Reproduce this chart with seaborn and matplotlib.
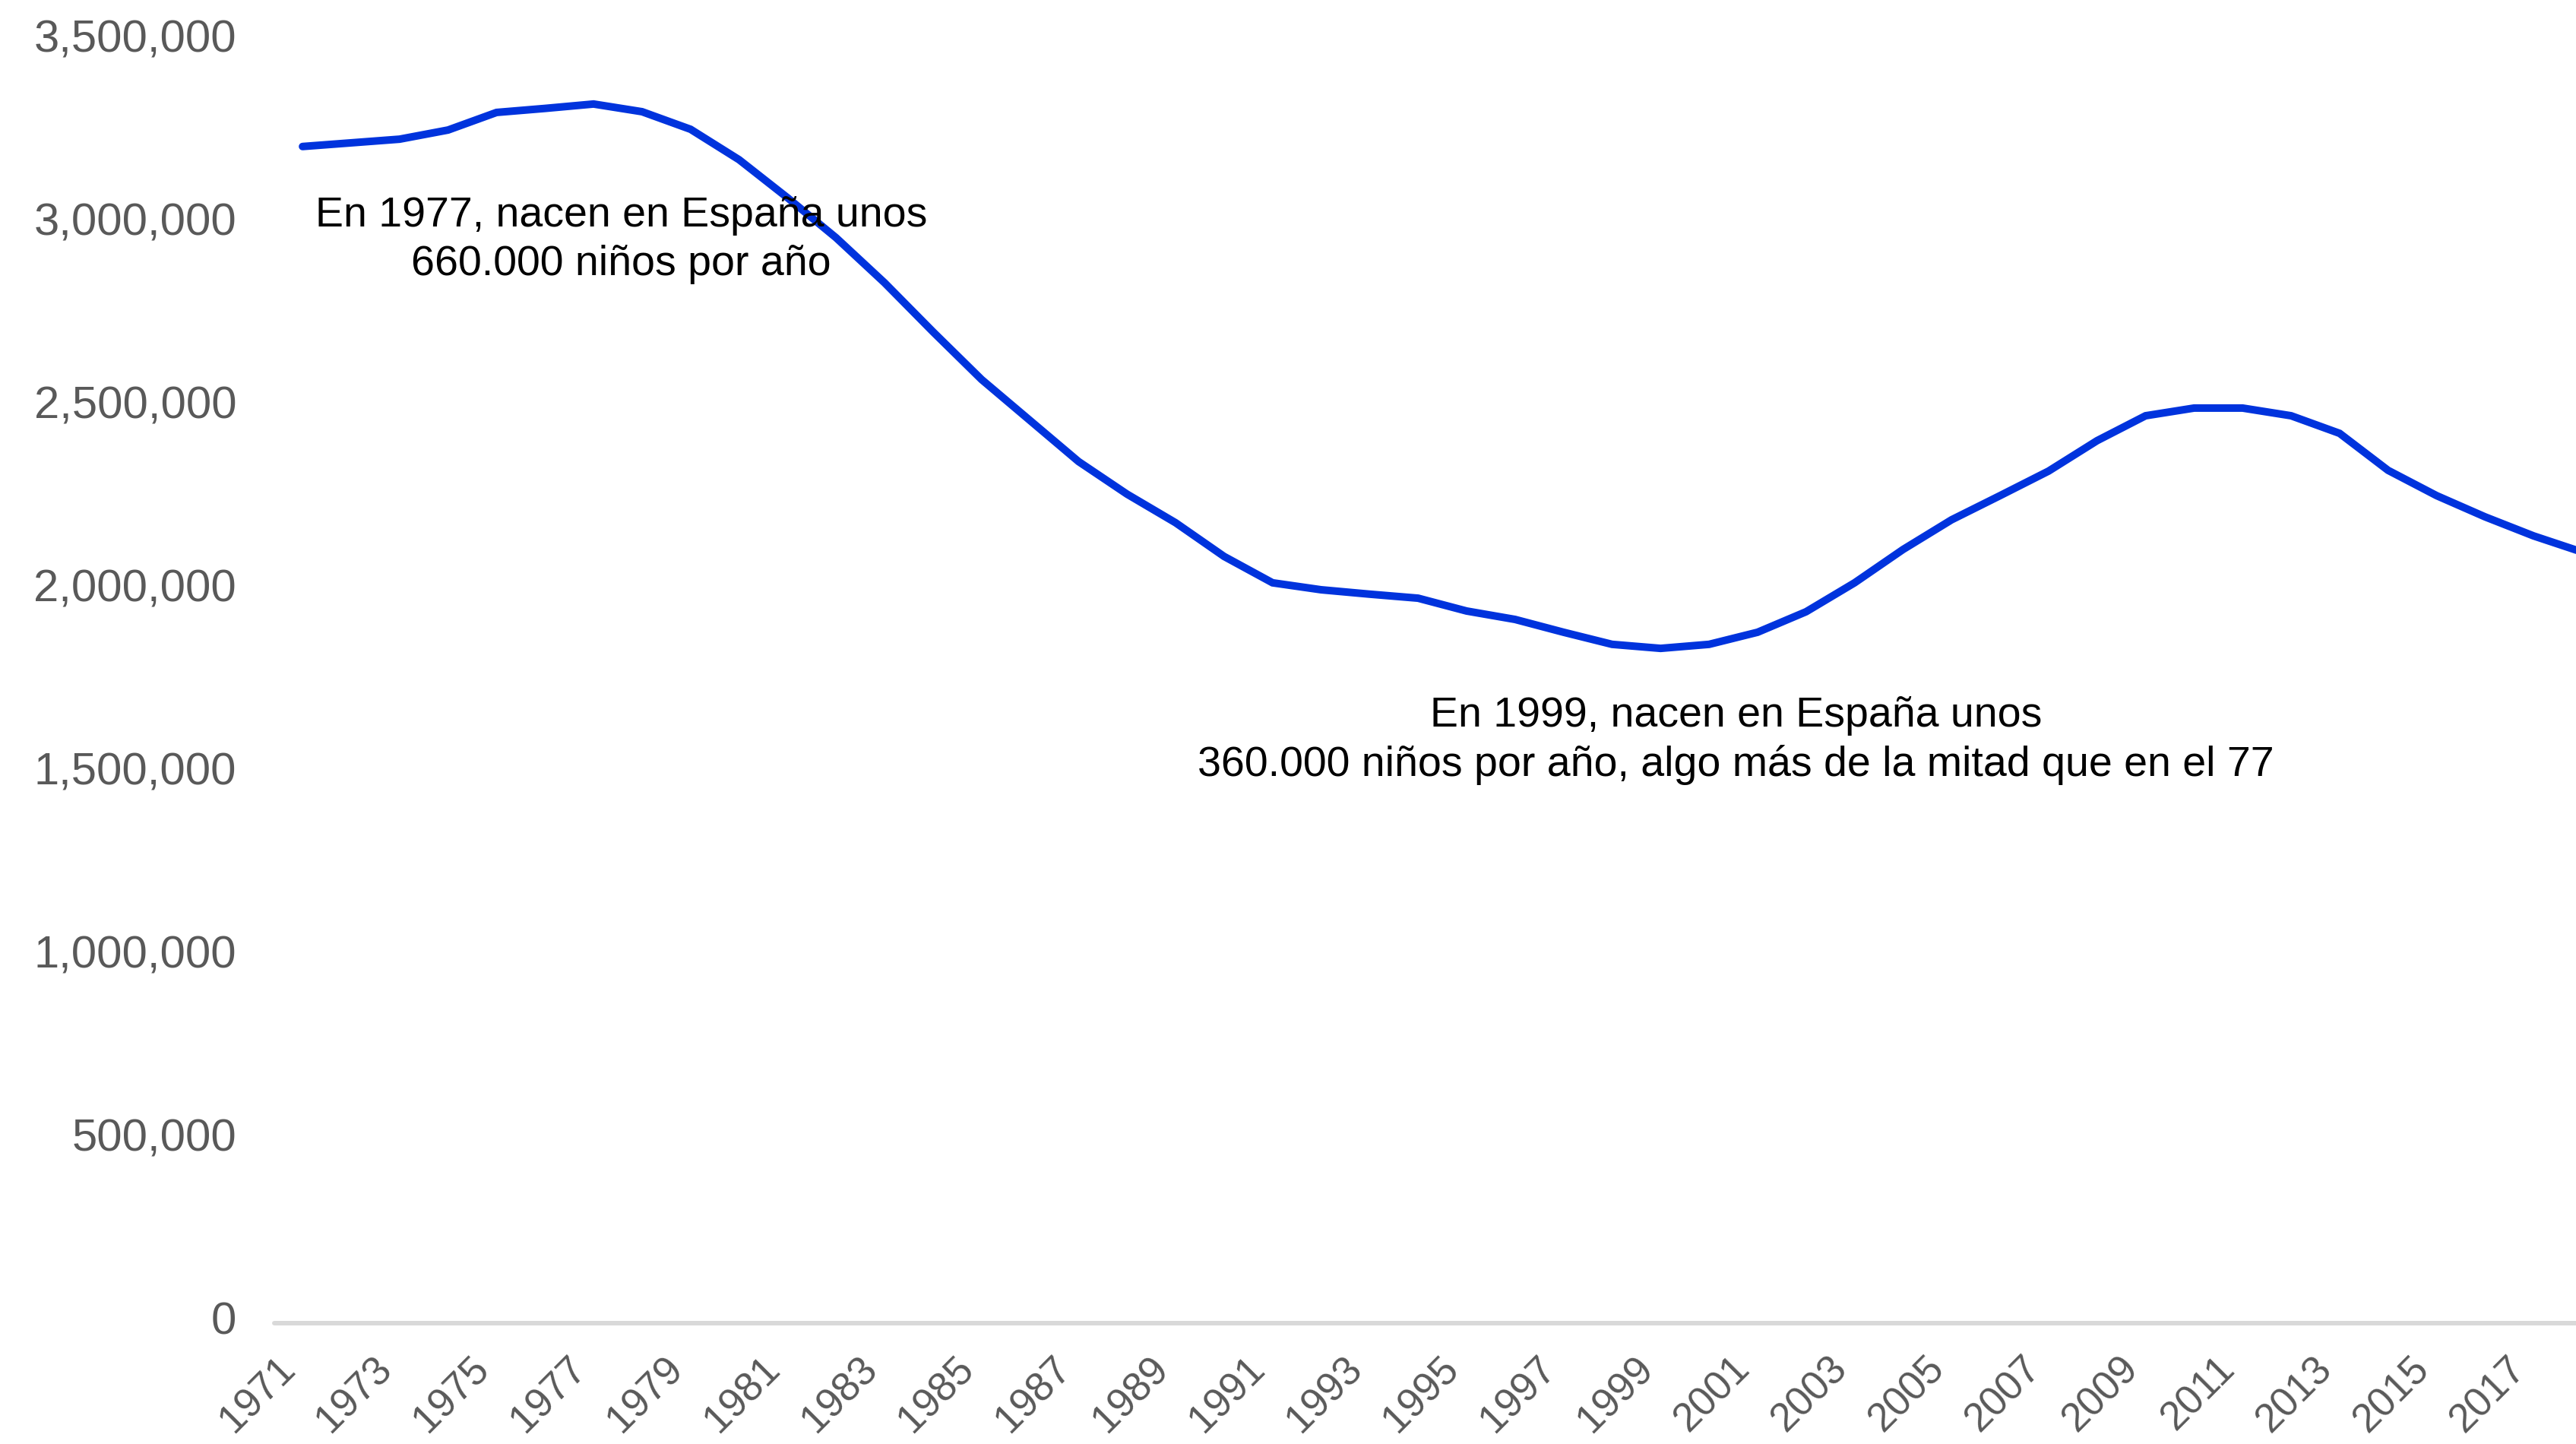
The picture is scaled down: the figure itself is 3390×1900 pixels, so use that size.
import matplotlib
matplotlib.use("Agg")
import matplotlib.pyplot as plt
import matplotlib.transforms as mtransforms
import pandas as pd
import seaborn as sns

# Serie anual 1971-2018
years = list(range(1971, 2019))
poblacion = [
    3212000, 3222000, 3232000, 3257000, 3305000, 3316000, 3328000, 3307000,
    3259000, 3176000, 3072000, 2963000, 2840000, 2706000, 2576000, 2464000,
    2352000, 2263000, 2185000, 2093000, 2021000, 2002000, 1990000, 1979000,
    1944000, 1921000, 1886000, 1853000, 1842000, 1853000, 1886000, 1942000,
    2021000, 2112000, 2193000, 2259000, 2326000, 2409000, 2477000, 2498000,
    2498000, 2477000, 2429000, 2328000, 2259000, 2201000, 2149000, 2105000,
]

y_ticks = [0, 500000, 1000000, 1500000, 2000000, 2500000, 3000000, 3500000]
y_labels = [f"{v:,}" for v in y_ticks]
x_ticks = list(range(1971, 2018, 2))
x_labels = [str(y) for y in x_ticks]

nota_1977 = "En 1977, nacen en España unos\n660.000 niños por año"
nota_1999 = ("En 1999, nacen en España unos\n"
             "360.000 niños por año, algo más de la mitad que en el 77")

sns.set_theme(style="white")
plt.rcParams["font.family"] = ["Liberation Sans", "DejaVu Sans"]

fig = plt.figure(figsize=(33.91, 19.0), dpi=100)
ax = fig.add_axes([0.1065, 0.0837, 1 - 0.1065, 0.9716 - 0.0837])

df = pd.DataFrame({"anio": years, "ninos": poblacion})
sns.lineplot(data=df, x="anio", y="ninos", ax=ax, color="#0033DD",
             linewidth=7.2, solid_joinstyle="miter")

ax.set_xlim(1970.42, 2017.89)
ax.set_ylim(0, 3500000)
for s in ax.spines.values():
    s.set_visible(False)
ax.grid(False)
ax.axhline(0, color="#d9d9d9", lw=4.3, zorder=0, clip_on=False)

ax.set_xlabel("")
ax.set_ylabel("")

ax.set_yticks(y_ticks, labels=y_labels)
ax.tick_params(axis="y", length=0, pad=36, labelsize=43, labelcolor="#595959")
shift = mtransforms.ScaledTranslation(0, 7 / 100, fig.dpi_scale_trans)
for lab in ax.get_yticklabels():
    lab.set_transform(lab.get_transform() + shift)

ax.set_xticks(x_ticks, labels=x_labels, rotation=45, ha="right")
ax.tick_params(axis="x", length=0, pad=25, labelsize=38, labelcolor="#595959")

# anchor = baseline of the last line of each note
ax.text(1977.57, 2861000, nota_1977, ha="center", va="baseline",
        fontsize=40, color="black", linespacing=1.3, multialignment="center")
ax.text(2000.55, 1494000, nota_1999, ha="center", va="baseline",
        fontsize=40, color="black", linespacing=1.3, multialignment="center")

fig.savefig("out.png", dpi=100, facecolor="white")
